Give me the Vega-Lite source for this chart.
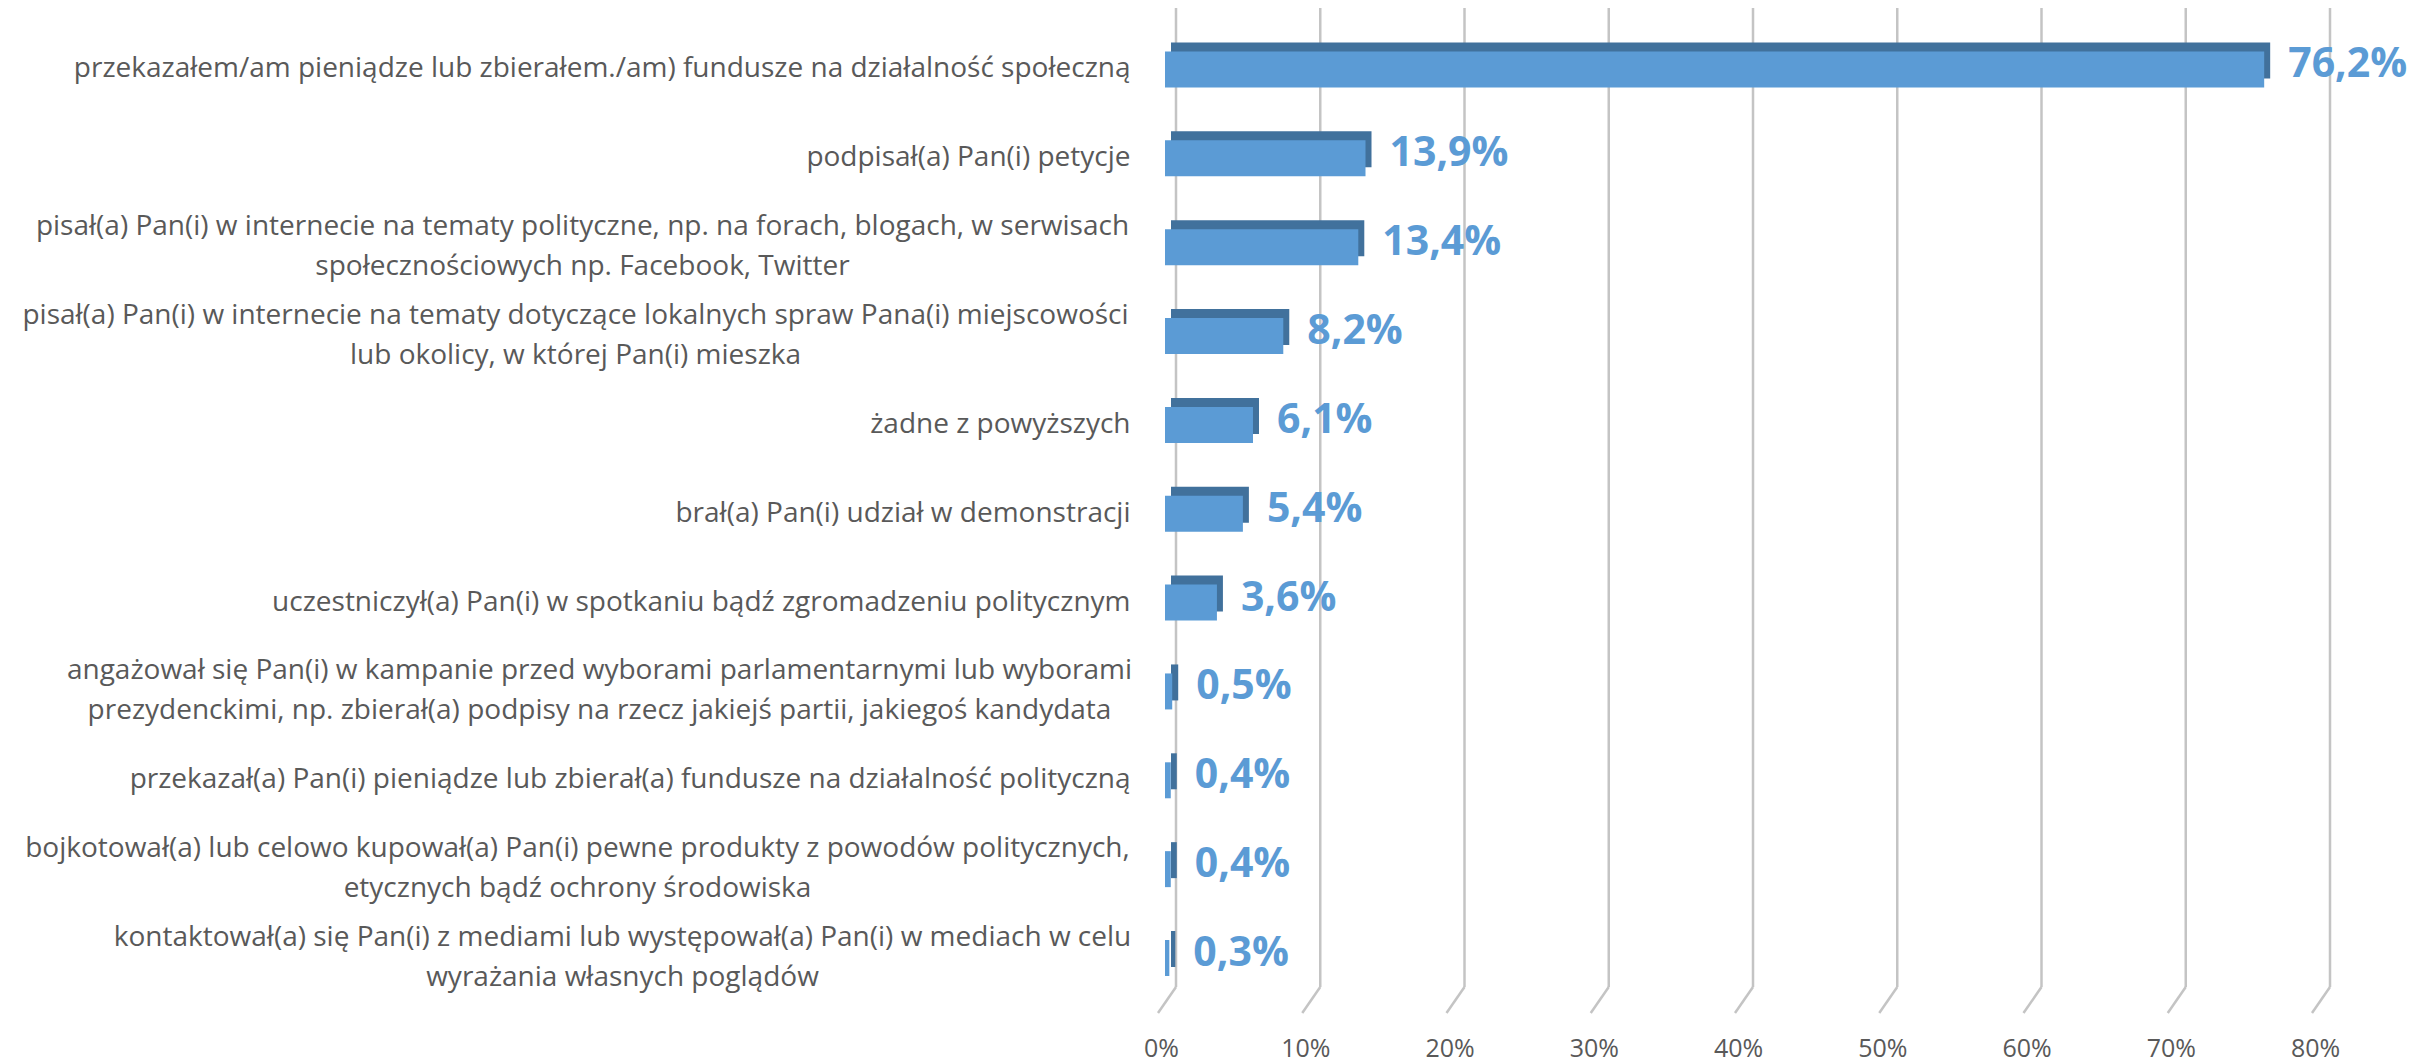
{
  "$schema": "https://vega.github.io/schema/vega-lite/v6.json",
  "autosize": {"type": "none"},
  "padding": {"left": 1165, "top": 8, "right": 116, "bottom": 76},
  "width": 1154,
  "height": 979,
  "background": "white",
  "config": {
    "view": {"stroke": null},
    "locale": {"number": {"decimal": ",", "thousands": " ", "grouping": [3], "currency": ["", " zł"]}}
  },
  "datasets": {
    "answers": [
      {"cat": "przekazałem/am pieniądze lub zbierałem./am) fundusze na działalność społeczną", "v": 0.762},
      {"cat": "podpisał(a) Pan(i) petycje", "v": 0.139},
      {"cat": "pisał(a) Pan(i) w internecie na tematy polityczne, np. na forach, blogach, w serwisach|społecznościowych np. Facebook, Twitter", "v": 0.134},
      {"cat": "pisał(a) Pan(i) w internecie na tematy dotyczące lokalnych spraw Pana(i) miejscowości|lub okolicy, w której Pan(i) mieszka", "v": 0.082},
      {"cat": "żadne z powyższych", "v": 0.061},
      {"cat": "brał(a) Pan(i) udział w demonstracji", "v": 0.054},
      {"cat": "uczestniczył(a) Pan(i) w spotkaniu bądź zgromadzeniu politycznym", "v": 0.036},
      {"cat": "angażował się Pan(i) w kampanie przed wyborami parlamentarnymi lub wyborami|prezydenckimi, np. zbierał(a) podpisy na rzecz jakiejś partii, jakiegoś kandydata", "v": 0.005},
      {"cat": "przekazał(a) Pan(i) pieniądze lub zbierał(a) fundusze na działalność polityczną", "v": 0.004},
      {"cat": "bojkotował(a) lub celowo kupował(a) Pan(i) pewne produkty z powodów politycznych,|etycznych bądź ochrony środowiska", "v": 0.004},
      {"cat": "kontaktował(a) się Pan(i) z mediami lub występował(a) Pan(i) w mediach w celu|wyrażania własnych poglądów", "v": 0.003}
    ],
    "gridlines": [
      {"v": 0}, {"v": 0.1}, {"v": 0.2}, {"v": 0.3}, {"v": 0.4}, {"v": 0.5}, {"v": 0.6}, {"v": 0.7}, {"v": 0.8}
    ]
  },
  "resolve": {"scale": {"y": "independent"}, "axis": {"y": "independent"}},
  "layer": [
    {
      "data": {"name": "gridlines"},
      "mark": {"type": "rule", "color": "#C4C4C4", "strokeWidth": 2.5, "xOffset": 11},
      "encoding": {
        "x": {
          "field": "v", "type": "quantitative",
          "scale": {"domain": [0, 0.8], "nice": false},
          "axis": {
            "title": null, "format": ".0%", "values": [0, 0.1, 0.2, 0.3, 0.4, 0.5, 0.6, 0.7, 0.8],
            "grid": false, "ticks": false, "domain": false, "labelOffset": -4, "labelFlush": false,
            "labelFont": "Open Sans", "labelFontSize": 25, "labelColor": "#595959",
            "labelPadding": 61, "labelBaseline": "middle"
          }
        }
      }
    },
    {
      "data": {"name": "gridlines"},
      "mark": {"type": "rule", "color": "#C4C4C4", "strokeWidth": 2.5, "xOffset": 11, "x2Offset": -7},
      "encoding": {
        "x": {"field": "v", "type": "quantitative"},
        "x2": {"field": "v"},
        "y": {"datum": 0, "type": "quantitative", "scale": {"domain": [0, 1]}, "axis": null},
        "y2": {"datum": -0.0266}
      }
    },
    {
      "data": {"name": "answers"},
      "encoding": {
        "y": {
          "field": "cat", "type": "nominal", "sort": null,
          "scale": {"paddingInner": 0.595, "paddingOuter": 0.3066, "align": 0.798, "round": false},
          "axis": {
            "title": null, "ticks": false, "domain": false, "grid": false,
            "labelExpr": "split(datum.label, '|')",
            "labelFont": "Open Sans", "labelFontSize": 28, "labelColor": "#595959",
            "labelLineHeight": 40, "labelLimit": 1300,
            "labelAlign": {"condition": {"test": "indexof(datum.value, '|') >= 0", "value": "center"}, "value": "right"},
            "labelOffset": {"condition": {"test": "indexof(datum.value, '|') >= 0", "value": -20}, "value": 0},
            "labelPadding": {"condition": [
              {"test": "indexof(datum.value, 'tematy polityczne') >= 0", "value": 583},
              {"test": "indexof(datum.value, 'lokalnych') >= 0", "value": 590},
              {"test": "indexof(datum.value, 'angażował') >= 0", "value": 566},
              {"test": "indexof(datum.value, 'bojkotował') >= 0", "value": 588},
              {"test": "indexof(datum.value, 'kontaktował') >= 0", "value": 543}
            ], "value": 35}
          }
        },
        "x": {"field": "v", "type": "quantitative"}
      },
      "layer": [
        {"mark": {"type": "bar", "color": "#41719C", "xOffset": 6, "x2Offset": 6, "yOffset": -9, "y2Offset": -9}},
        {"mark": {"type": "bar", "color": "#5B9BD5"}},
        {"mark": {"type": "text", "align": "left", "baseline": "middle", "dx": 24, "dy": -4, "font": "Open Sans", "fontWeight": "bold", "fontSize": 41, "color": "#5B9BD5"},
         "encoding": {"text": {"field": "v", "type": "quantitative", "format": ".1%"}}}
      ]
    }
  ]
}
